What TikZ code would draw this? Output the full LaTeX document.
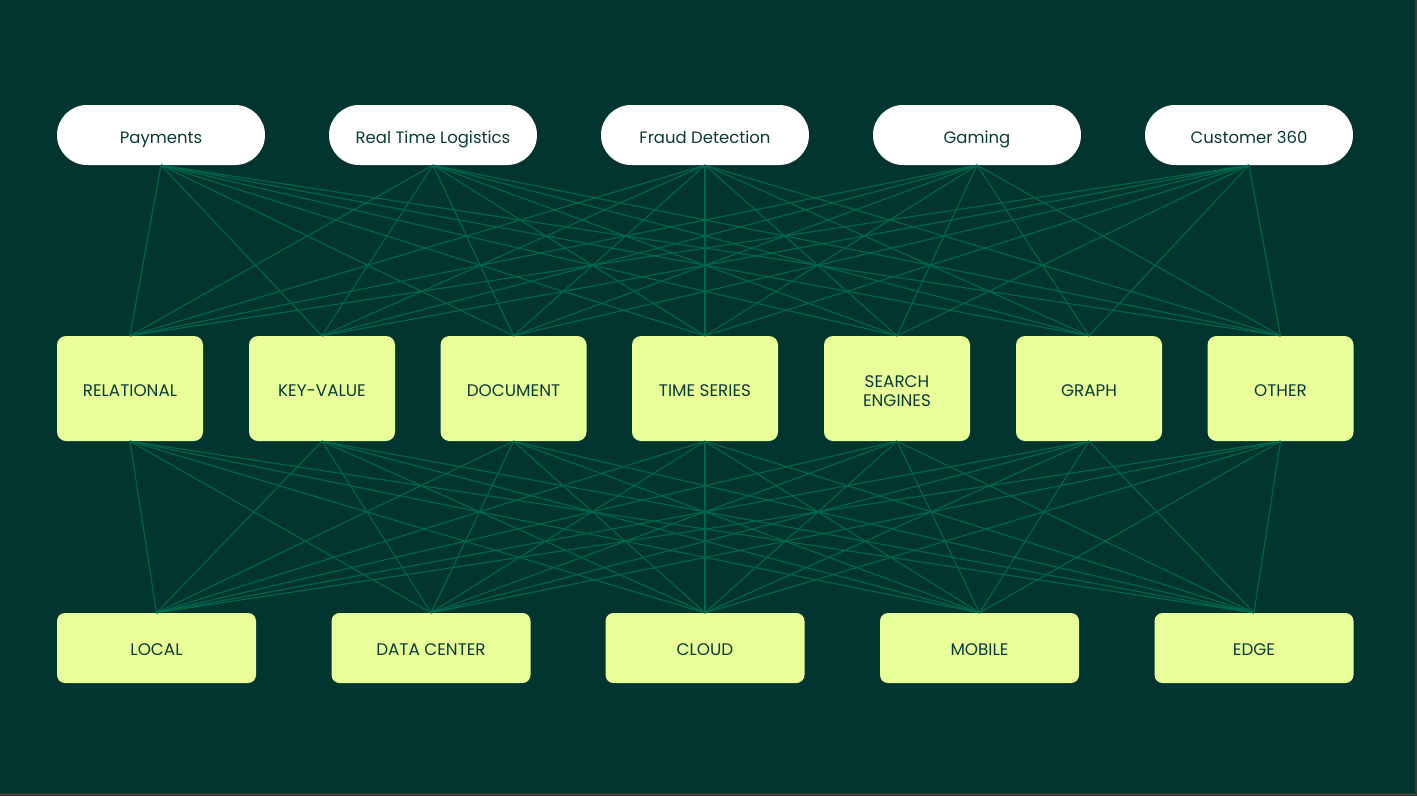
\documentclass[tikz,border=0pt]{standalone}
\usepackage{fontspec}
\setmainfont{Poppins}
\definecolor{bg}{HTML}{023430}
\definecolor{edge}{HTML}{00684A}
\definecolor{lime}{HTML}{E9FF99}
\definecolor{ink}{HTML}{0B3B35}
\definecolor{frame}{HTML}{3C3C3C}
\begin{document}
\begin{tikzpicture}[x=1pt,y=-1pt,
  pill/.style={draw=none,fill=white,rounded corners=30pt,minimum width=208pt,minimum height=60pt,inner sep=0pt,text=ink,font=\fontsize{16.5pt}{19pt}\selectfont,text height=0.7em+10pt,text depth=0pt},
  dbbox/.style={draw=none,fill=lime,rounded corners=9pt,minimum width=146pt,minimum height=105pt,inner sep=0pt,text=ink,font=\fontsize{16.8pt}{19pt}\selectfont},
  oneline/.style={text height=0.7em+8pt,text depth=0pt},
  twoline/.style={text height=0.7em+28pt,text depth=0pt},
  depbox/.style={draw=none,fill=lime,rounded corners=8pt,minimum width=199pt,minimum height=70pt,inner sep=0pt,text=ink,font=\fontsize{16.8pt}{19pt}\selectfont,text height=0.7em+8pt,text depth=0pt},
  link/.style={draw=edge,line width=1.1pt}]
\useasboundingbox (0,0) rectangle (1417,796);
\fill[frame] (0,0) rectangle (1417,796);
\fill[bg] (0,0) rectangle (1415,793);
% top pills
\node[pill] (u1) at (161,135) {Payments};
\node[pill] (u2) at (433,135) {Real Time Logistics};
\node[pill] (u3) at (705,135) {Fraud Detection};
\node[pill] (u4) at (977,135) {Gaming};
\node[pill] (u5) at (1249,135) {Customer 360};
% middle boxes
\node[dbbox,oneline] (m1) at (130,388.5) {RELATIONAL};
\node[dbbox,oneline] (m2) at (322,388.5) {KEY-VALUE};
\node[dbbox,oneline] (m3) at (513.5,388.5) {DOCUMENT};
\node[dbbox,oneline] (m4) at (705,388.5) {TIME SERIES};
\node[dbbox,twoline] (m5) at (897,388.5) {\begin{tabular}[b]{@{}c@{}}SEARCH\\ENGINES\end{tabular}};
\node[dbbox,oneline] (m6) at (1089,388.5) {GRAPH};
\node[dbbox,oneline] (m7) at (1280.5,388.5) {OTHER};
% bottom boxes
\node[depbox] (b1) at (156.5,648) {LOCAL};
\node[depbox] (b2) at (431,648) {DATA CENTER};
\node[depbox] (b3) at (705,648) {CLOUD};
\node[depbox] (b4) at (979.5,648) {MOBILE};
\node[depbox] (b5) at (1254,648) {EDGE};
% links
\foreach \u in {1,...,5}{
  \foreach \m in {1,...,7}{
    \draw[link] (u\u.south) -- (m\m.north);
  }
}
\foreach \m in {1,...,7}{
  \foreach \b in {1,...,5}{
    \draw[link] (m\m.south) -- (b\b.north);
  }
}
\end{tikzpicture}
\end{document}
